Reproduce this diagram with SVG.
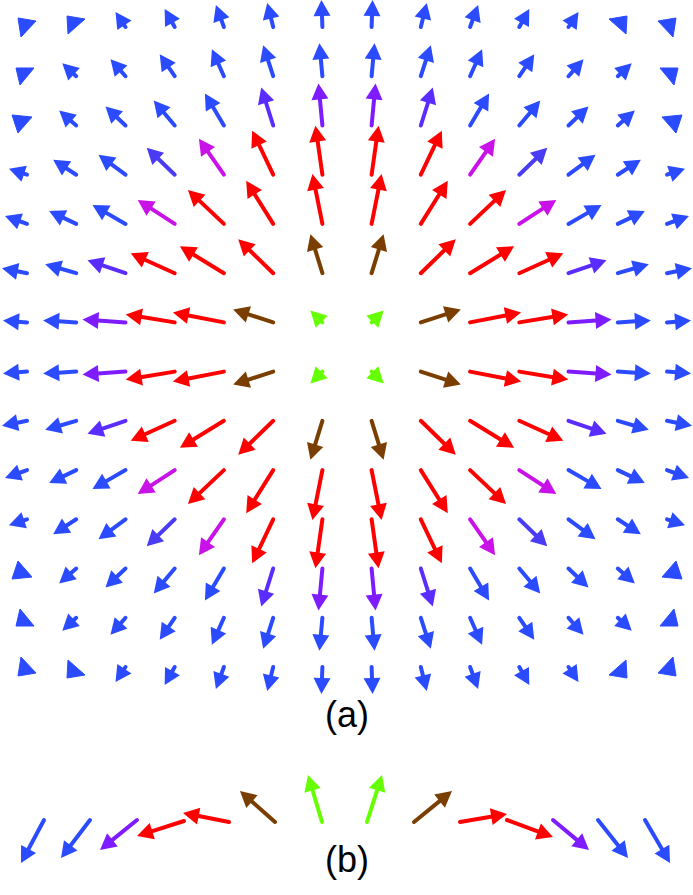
<svg xmlns="http://www.w3.org/2000/svg" xmlns:xlink="http://www.w3.org/1999/xlink" width="693" height="895" viewBox="0 0 693 895">
<style>
line{stroke-width:4;stroke-linecap:round}
.b{stroke:#2a4bff;fill:#2a4bff}
.bv{stroke:#4a3cf5;fill:#4a3cf5}
.pb{stroke:#5a2cff;fill:#5a2cff}
.p{stroke:#7f1cff;fill:#7f1cff}
.m{stroke:#c812e8;fill:#c812e8}
.r{stroke:#ff0000;fill:#ff0000}
.br{stroke:#7a3f00;fill:#7a3f00}
.g{stroke:#66ff00;fill:#66ff00}
text{font-family:"Liberation Sans",Arial,sans-serif;font-size:36px;fill:#000}
</style>
<defs>
<polygon id="h" points="0,0 -16,-8.5 -16,8.5" stroke="none"/>
</defs>
<rect width="693" height="895" fill="#fff"/>
<g id="field">
<g id="q">
<!-- row 0 y=27 -->
<polygon class="b" points="18,18 36,21 21,37"/>
<polygon class="b" points="67,16 85,19 68,34"/>
<g class="b" transform="translate(125.5,27) rotate(-123.7)"><line x2="6"/><use xlink:href="#h" x="18"/></g>
<g class="b" transform="translate(174.7,27) rotate(-119.1)"><line x2="8.6"/><use xlink:href="#h" x="20.6"/></g>
<g class="b" transform="translate(223.9,27) rotate(-110)"><line x2="11.4"/><use xlink:href="#h" x="23.4"/></g>
<g class="b" transform="translate(273.2,27) rotate(-104)"><line x2="12.7"/><use xlink:href="#h" x="24.7"/></g>
<g class="b" transform="translate(322.4,27) rotate(-92.1)"><line x2="15"/><use xlink:href="#h" x="27"/></g>
<!-- row 1 y=76.2 -->
<polygon class="b" points="16,68 34,68 20,85"/>
<g class="b" transform="translate(76.2,76.2) rotate(-137.1)"><line x2="7"/><use xlink:href="#h" x="19"/></g>
<g class="b" transform="translate(125.5,76.2) rotate(-131.4)"><line x2="10.7"/><use xlink:href="#h" x="22.7"/></g>
<g class="b" transform="translate(174.7,76.2) rotate(-124.3)"><line x2="14.6"/><use xlink:href="#h" x="26.6"/></g>
<g class="b" transform="translate(223.9,76.2) rotate(-114)"><line x2="17.5"/><use xlink:href="#h" x="29.5"/></g>
<g class="b" transform="translate(273.2,76.2) rotate(-107.9)"><line x2="20.6"/><use xlink:href="#h" x="32.6"/></g>
<g class="b" transform="translate(322.4,76.2) rotate(-95.2)"><line x2="21.1"/><use xlink:href="#h" x="33.1"/></g>
<!-- row 2 y=125.5 -->
<polygon class="b" points="12,115 32,117 18,133"/>
<g class="b" transform="translate(76.2,125.5) rotate(-138.6)"><line x2="10.7"/><use xlink:href="#h" x="22.7"/></g>
<g class="b" transform="translate(125.5,125.5) rotate(-136.5)"><line x2="15.6"/><use xlink:href="#h" x="27.6"/></g>
<g class="b" transform="translate(174.7,125.5) rotate(-130)"><line x2="20.6"/><use xlink:href="#h" x="32.6"/></g>
<g class="b" transform="translate(223.9,125.5) rotate(-120.7)"><line x2="25.2"/><use xlink:href="#h" x="37.2"/></g>
<g class="pb" transform="translate(273.2,125.5) rotate(-107.5)"><line x2="27.8"/><use xlink:href="#h" x="39.8"/></g>
<g class="p" transform="translate(322.4,125.5) rotate(-95.4)"><line x2="30.2"/><use xlink:href="#h" x="42.2"/></g>
<!-- row 3 y=174.7 -->
<g class="b" transform="translate(27,174.7) rotate(-161.6)"><line x2="7"/><use xlink:href="#h" x="19"/></g>
<g class="b" transform="translate(76.2,174.7) rotate(-146.9)"><line x2="15.5"/><use xlink:href="#h" x="27.5"/></g>
<g class="b" transform="translate(125.5,174.7) rotate(-143.5)"><line x2="21.6"/><use xlink:href="#h" x="33.6"/></g>
<g class="bv" transform="translate(174.7,174.7) rotate(-136)"><line x2="26.9"/><use xlink:href="#h" x="38.9"/></g>
<g class="m" transform="translate(223.9,174.7) rotate(-124.8)"><line x2="31.8"/><use xlink:href="#h" x="43.8"/></g>
<g class="r" transform="translate(273.2,174.7) rotate(-115.5)"><line x2="36.8"/><use xlink:href="#h" x="48.8"/></g>
<g class="r" transform="translate(322.4,174.7) rotate(-98.1)"><line x2="37.5"/><use xlink:href="#h" x="49.5"/></g>
<!-- row 4 y=223.9 -->
<g class="b" transform="translate(27,223.9) rotate(-160)"><line x2="11.4"/><use xlink:href="#h" x="23.4"/></g>
<g class="b" transform="translate(76.2,223.9) rotate(-154.3)"><line x2="18"/><use xlink:href="#h" x="30"/></g>
<g class="b" transform="translate(125.5,223.9) rotate(-150.1)"><line x2="26.1"/><use xlink:href="#h" x="38.1"/></g>
<g class="m" transform="translate(174.7,223.9) rotate(-147)"><line x2="32.1"/><use xlink:href="#h" x="44.1"/></g>
<g class="r" transform="translate(223.9,223.9) rotate(-136.6)"><line x2="37.5"/><use xlink:href="#h" x="49.5"/></g>
<g class="r" transform="translate(273.2,223.9) rotate(-122.1)"><line x2="38.8"/><use xlink:href="#h" x="50.8"/></g>
<g class="r" transform="translate(322.4,223.9) rotate(-101.3)"><line x2="39"/><use xlink:href="#h" x="51"/></g>
<!-- row 5 y=273.2 -->
<g class="b" transform="translate(27,273.2) rotate(-168.7)"><line x2="13.5"/><use xlink:href="#h" x="25.5"/></g>
<g class="b" transform="translate(76.2,273.2) rotate(-163.8)"><line x2="20.3"/><use xlink:href="#h" x="32.3"/></g>
<g class="pb" transform="translate(125.5,273.2) rotate(-161.1)"><line x2="28.2"/><use xlink:href="#h" x="40.2"/></g>
<g class="r" transform="translate(174.7,273.2) rotate(-155.6)"><line x2="36.3"/><use xlink:href="#h" x="48.3"/></g>
<g class="r" transform="translate(223.9,273.2) rotate(-148.5)"><line x2="39.6"/><use xlink:href="#h" x="51.6"/></g>
<g class="r" transform="translate(273.2,273.2) rotate(-135.8)"><line x2="36.8"/><use xlink:href="#h" x="48.8"/></g>
<g class="br" transform="translate(322.4,273.2) rotate(-107.1)"><line x2="28.8"/><use xlink:href="#h" x="40.8"/></g>
<!-- row 6 y=322.4 -->
<g class="b" transform="translate(27,322.4) rotate(-175.2)"><line x2="12.1"/><use xlink:href="#h" x="24.1"/></g>
<g class="b" transform="translate(76.2,322.4) rotate(-176.5)"><line x2="21.1"/><use xlink:href="#h" x="33.1"/></g>
<g class="p" transform="translate(125.5,322.4) rotate(-176)"><line x2="31.1"/><use xlink:href="#h" x="43.1"/></g>
<g class="r" transform="translate(174.7,322.4) rotate(-170.7)"><line x2="37.6"/><use xlink:href="#h" x="49.6"/></g>
<g class="r" transform="translate(223.9,322.4) rotate(-168.9)"><line x2="40"/><use xlink:href="#h" x="52"/></g>
<g class="br" transform="translate(273.2,322.4) rotate(-162)"><line x2="30.1"/><use xlink:href="#h" x="42.1"/></g>
<g class="g" transform="translate(322.4,322.4) rotate(-135)"><line x2="4"/><use xlink:href="#h" x="17"/></g>
</g>
<use xlink:href="#q" transform="matrix(-1 0 0 1 694 0)"/>
<use xlink:href="#q" transform="matrix(1 0 0 -1 0 694)"/>
<use xlink:href="#q" transform="matrix(-1 0 0 -1 694 694)"/>
</g>
<text x="347" y="727" text-anchor="middle">(a)</text>
<g id="rowb">
<g class="b" transform="translate(44,820) rotate(118.1)"><line x2="36.8"/><use xlink:href="#h" x="48.8"/></g>
<g class="b" transform="translate(90,820) rotate(127.3)"><line x2="35.8"/><use xlink:href="#h" x="47.8"/></g>
<g class="p" transform="translate(137,820) rotate(141)"><line x2="35.6"/><use xlink:href="#h" x="47.6"/></g>
<g class="r" transform="translate(184,821) rotate(162.3)"><line x2="37.3"/><use xlink:href="#h" x="49.3"/></g>
<g class="r" transform="translate(229,822) rotate(-168.9)"><line x2="34.9"/><use xlink:href="#h" x="46.9"/></g>
<g class="br" transform="translate(275,822) rotate(-138.5)"><line x2="34.8"/><use xlink:href="#h" x="46.8"/></g>
<g class="g" transform="translate(322,822) rotate(-106.6)"><line x2="37"/><use xlink:href="#h" x="49"/></g>
<g class="g" transform="translate(367,822) rotate(-72.3)"><line x2="37.3"/><use xlink:href="#h" x="49.3"/></g>
<g class="br" transform="translate(414,822) rotate(-39.2)"><line x2="37"/><use xlink:href="#h" x="49"/></g>
<g class="r" transform="translate(460,822) rotate(-9.7)"><line x2="35.7"/><use xlink:href="#h" x="47.7"/></g>
<g class="r" transform="translate(507,820) rotate(20.3)"><line x2="37"/><use xlink:href="#h" x="49"/></g>
<g class="p" transform="translate(553,820) rotate(39.8)"><line x2="34.9"/><use xlink:href="#h" x="46.9"/></g>
<g class="b" transform="translate(598,820) rotate(51.7)"><line x2="36.4"/><use xlink:href="#h" x="48.4"/></g>
<g class="b" transform="translate(645,820) rotate(59.8)"><line x2="37.7"/><use xlink:href="#h" x="49.7"/></g>
</g>
<text x="347" y="872" text-anchor="middle">(b)</text>
</svg>
